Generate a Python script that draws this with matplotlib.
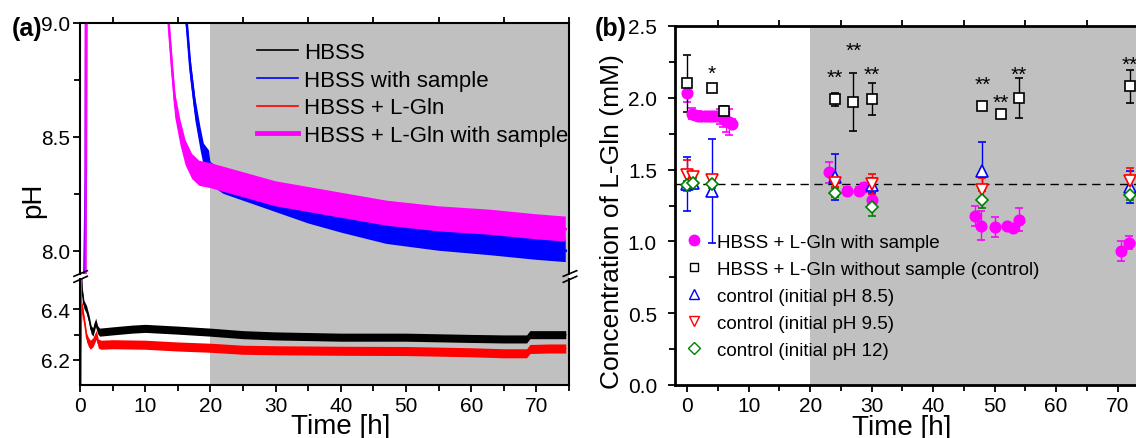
import matplotlib.pyplot as plt
import numpy as np
from matplotlib.lines import Line2D
from matplotlib.patches import Rectangle
from matplotlib.transforms import blended_transform_factory

plt.rcParams['font.family'] = ['Liberation Sans', 'DejaVu Sans']

# ---------------- (a) pH vs time (center of the noisy trace + half width of the noise)
hbss_t = [0.0, 0.1, 0.35, 0.6, 1.0, 1.4, 1.7, 2.0, 2.4, 2.7, 3.0, 5, 8, 10, 15, 20, 25, 30,
          40, 50, 60, 65, 68.5, 69, 72, 74.5]
hbss_ph = [6.45, 6.58, 6.47, 6.42, 6.40, 6.36, 6.32, 6.31, 6.35, 6.32, 6.31, 6.315, 6.322, 6.325,
           6.318, 6.31, 6.30, 6.295, 6.29, 6.29, 6.285, 6.283, 6.283, 6.30, 6.30, 6.30]
hbss_hw = 0.016

gln_t = [0.0, 0.15, 0.3, 0.5, 0.8, 1.0, 1.3, 1.6, 2.0, 2.5, 2.8, 3.2, 5, 10, 15, 20, 25, 30,
         40, 50, 60, 65, 68.5, 69, 72, 74.5]
gln_ph = [6.20, 6.30, 6.42, 6.38, 6.33, 6.29, 6.27, 6.26, 6.27, 6.30, 6.265, 6.26, 6.262, 6.26,
          6.253, 6.248, 6.24, 6.238, 6.236, 6.235, 6.23, 6.226, 6.226, 6.243, 6.245, 6.245]
gln_hw = 0.018

samp_t = [0.0, 0.05, 0.9, 0.95, 1.0, 8.0, 16.0, 16.4, 16.9, 17.7, 18.5, 19.0, 19.8, 20, 22, 25,
          30, 35, 40, 47, 55, 63, 70, 74.5]
samp_ph = [6.0, 6.6, 8.35, 8.97, 9.6, 9.8, 9.1, 8.99, 8.81, 8.62, 8.49, 8.42, 8.39, 8.34, 8.30,
           8.27, 8.22, 8.17, 8.13, 8.08, 8.05, 8.03, 8.01, 8.0]
samp_hw = 0.05

glnsamp_t = [0.0, 0.15, 0.85, 0.9, 1.0, 7.0, 13.4, 13.6, 14.1, 14.6, 15.4, 16.2, 17.2, 18.3, 20,
             25, 30, 40, 47, 55, 63, 70, 74.5]
glnsamp_ph = [6.0, 6.6, 7.85, 8.97, 9.6, 9.8, 9.1, 9.0, 8.81, 8.64, 8.52, 8.43, 8.37, 8.34, 8.33,
              8.29, 8.25, 8.20, 8.165, 8.14, 8.125, 8.105, 8.095]
glnsamp_hw = 0.055

# ---------------- (b) L-Gln concentration
ws_t = [0, 0.8, 1.3, 1.8, 2.3, 2.8, 3.3, 3.8, 4.3, 4.8, 5.3, 5.8, 6.3, 6.8, 7.2,
        23, 26, 28, 28.8, 30, 46.8, 47.8, 50, 52, 53, 54, 70.6, 71.8]
ws_c = [2.03, 1.89, 1.88, 1.875, 1.87, 1.87, 1.87, 1.87, 1.87, 1.87, 1.87, 1.86, 1.84, 1.83, 1.82,
        1.48, 1.35, 1.35, 1.38, 1.29, 1.18, 1.11, 1.10, 1.11, 1.09, 1.15, 0.935, 0.99]
ws_e = [0.06, 0.04, 0.03, 0.03, 0.03, 0.03, 0.03, 0.03, 0.03, 0.03, 0.05, 0.06, 0.08, 0.09, 0.03,
        0.07, 0.03, 0.03, 0.03, 0.04, 0.07, 0.1, 0.07, 0.02, 0.02, 0.08, 0.07, 0.045]

ctl_t = [0, 4, 6, 24, 27, 30, 48, 51, 54, 72]
ctl_c = [2.10, 2.07, 1.91, 1.99, 1.97, 1.99, 1.94, 1.89, 2.00, 2.08]
ctl_e = [0.2, 0.02, 0.03, 0.045, 0.2, 0.11, 0.02, 0.02, 0.14, 0.115]

star_t = [4, 24, 27, 30, 48, 51, 54, 72]
star_c = [2.22, 2.19, 2.38, 2.21, 2.14, 2.02, 2.21, 2.28]
star_txt = ['*', '**', '**', '**', '**', '**', '**', '**']

ph_t = [0, 1, 4, 24, 30, 48, 72]
ph85_c = [1.40, 1.41, 1.35, 1.45, 1.39, 1.49, 1.38]
ph85_e = [0.19, 0.04, 0.36, 0.16, 0.05, 0.2, 0.11]
ph95_c = [1.46, 1.45, 1.43, 1.41, 1.40, 1.36, 1.42]
ph95_e = [0.11, 0.03, 0.02, 0.03, 0.07, 0.08, 0.09]
ph12_c = [1.39, 1.41, 1.40, 1.34, 1.24, 1.29, 1.32]
ph12_e = [0.03, 0.03, 0.03, 0.03, 0.06, 0.06, 0.03]

GRAY = '#c0c0c0'
W, H = 1136., 439.


def box(x0, y0, x1, y1):
    # pixel box -> figure fraction
    return [x0 / W, 1 - y1 / H, (x1 - x0) / W, (y1 - y0) / H]


def trace(ax, t, y, hw, color, lw):
    t = np.array(t)
    y = np.array(y)
    ax.fill_between(t, y - hw, y + hw, color=color, lw=0, zorder=2)
    ax.plot(t, y, color=color, lw=lw, zorder=2)


fig = plt.figure(figsize=(11.36, 4.39), dpi=100)

ax_top = fig.add_axes(box(80, 24, 569, 274.5))
ax_bot = fig.add_axes(box(80, 280.3, 569, 386))

for ax in (ax_top, ax_bot):
    ax.axvspan(20, 75, color=GRAY, lw=0, zorder=0)
    trace(ax, hbss_t, hbss_ph, hbss_hw, 'black', 1.0)
    trace(ax, gln_t, gln_ph, gln_hw, 'red', 1.0)
    trace(ax, samp_t, samp_ph, samp_hw, 'blue', 1.8)
    trace(ax, glnsamp_t, glnsamp_ph, glnsamp_hw, 'magenta', 1.8)
    ax.set_xlim(0, 75)
    ax.set_xticks(np.arange(0, 71, 10))
    ax.set_xticks(np.arange(5, 76, 10), minor=True)
    for s in ax.spines.values():
        s.set_linewidth(1.5)
    ax.tick_params(which='both', direction='out', width=1.3, labelsize=15, right=False)
    ax.tick_params(which='major', length=5)
    ax.tick_params(which='minor', length=4)
    ax.tick_params(axis='y', pad=2)

ax_top.set_ylim(7.9, 9.0)
ax_top.set_yticks([8.0, 8.5, 9.0])
ax_top.set_yticks([8.25, 8.75], minor=True)
ax_top.spines['bottom'].set_visible(False)
ax_top.tick_params(axis='x', which='major', bottom=False, top=False, labelbottom=False)
ax_top.tick_params(axis='x', which='minor', bottom=False, top=True)

ax_bot.set_ylim(6.1, 6.52)
ax_bot.set_yticks([6.2, 6.4])
ax_bot.set_yticks([6.3], minor=True)
ax_bot.spines['top'].set_visible(False)
ax_bot.tick_params(axis='x', which='both', top=False, pad=3)

# grey shading in the gap between the two halves
tr = blended_transform_factory(ax_bot.transData, fig.transFigure)
fig.add_artist(Rectangle((20, 1 - 280.3 / H), 55, 5.8 / H, transform=tr,
                         color=GRAY, lw=0, zorder=0))

# break marks
for xs in ([74, 87.3], [563.3, 576.7]):
    for ys in ([277.3, 271.7], [283.3, 277.3]):
        fig.add_artist(Line2D([x / W for x in xs], [1 - y / H for y in ys],
                              transform=fig.transFigure, color='black', lw=1.2))

leg_a = [Line2D([], [], color='black', lw=1.2),
         Line2D([], [], color='blue', lw=1.2),
         Line2D([], [], color='red', lw=1.2),
         Line2D([], [], color='magenta', lw=3.5)]
ax_top.legend(leg_a, ['HBSS', 'HBSS with sample', 'HBSS + L-Gln', 'HBSS + L-Gln with sample'],
              loc='upper left', bbox_to_anchor=(0.362, 0.924), frameon=False, fontsize=16,
              handlelength=1.86, handletextpad=0.27, labelspacing=0.3, borderpad=0,
              borderaxespad=0)

fig.text(12 / W, 1 - 36 / H, '(a)', fontsize=18, fontweight='bold', va='baseline')
fig.text(33 / W, 1 - 200 / H, 'pH', rotation=90, ha='center', va='center', fontsize=20)
fig.text(341 / W, 1 - 434 / H, 'Time [h]', ha='center', va='baseline', fontsize=20)

# ---------------- panel (b)
ax_b = fig.add_axes(box(675, 27, 1136, 386))
ax_b.axvspan(20, 73, color=GRAY, lw=0, zorder=0)
ax_b.axhline(1.4, color='black', lw=1, ls=(0, (6, 4)), zorder=1)

eb = dict(ls='none', elinewidth=1, capsize=3, capthick=1, mew=1.2, zorder=3)
ax_b.errorbar(ws_t, ws_c, yerr=ws_e, marker='o', ms=7.5, mfc='magenta', mec='magenta',
              ecolor='magenta', **eb)
ax_b.errorbar(ctl_t, ctl_c, yerr=ctl_e, marker='s', ms=6.5, mfc='white', mec='black',
              ecolor='black', **eb)
ax_b.errorbar(ph_t, ph85_c, yerr=ph85_e, marker='^', ms=8, mfc='white', mec='blue',
              ecolor='blue', **eb)
ax_b.errorbar(ph_t, ph95_c, yerr=ph95_e, marker='v', ms=8, mfc='white', mec='red',
              ecolor='red', **eb)
ax_b.errorbar(ph_t, ph12_c, yerr=ph12_e, marker='D', ms=6.5, mfc='white', mec='green',
              ecolor='green', **eb)

for t, c, s in zip(star_t, star_c, star_txt):
    ax_b.annotate(s, (t, c), xytext=(0, -9), textcoords='offset points', ha='center',
                  va='baseline', fontsize=15)

ax_b.set_xlim(-2, 73)
ax_b.set_ylim(0, 2.5)
ax_b.set_xticks(np.arange(0, 71, 10))
ax_b.set_xticks(np.arange(5, 70, 10), minor=True)
ax_b.set_yticks(np.arange(0, 2.51, 0.5))
ax_b.set_yticks(np.arange(0.25, 2.5, 0.5), minor=True)
ax_b.set_yticklabels(['%.1f' % v for v in np.arange(0, 2.51, 0.5)])
ax_b.spines['right'].set_visible(False)
for s in ('left', 'top', 'bottom'):
    ax_b.spines[s].set_linewidth(2)
ax_b.tick_params(which='both', direction='out', width=1.3, labelsize=15, right=False)
ax_b.tick_params(which='major', length=5)
ax_b.tick_params(which='minor', length=4)
ax_b.tick_params(axis='x', which='major', top=False, pad=3)
ax_b.tick_params(axis='x', which='minor', top=True)
ax_b.tick_params(axis='y', pad=8)

leg_b = [Line2D([], [], ls='none', marker='o', ms=7.5, mfc='magenta', mec='magenta'),
         Line2D([], [], ls='none', marker='s', ms=5.5, mfc='white', mec='black'),
         Line2D([], [], ls='none', marker='^', ms=7.5, mfc='white', mec='blue'),
         Line2D([], [], ls='none', marker='v', ms=7.5, mfc='white', mec='red'),
         Line2D([], [], ls='none', marker='D', ms=6, mfc='white', mec='green')]
ax_b.legend(leg_b, ['HBSS + L-Gln with sample', 'HBSS + L-Gln without sample (control)',
                    'control (initial pH 8.5)', 'control (initial pH 9.5)',
                    'control (initial pH 12)'],
            loc='upper left', bbox_to_anchor=(0.020, 0.422), frameon=False, fontsize=13.5,
            handlelength=1.0, handletextpad=0.75, labelspacing=0.53, borderpad=0,
            borderaxespad=0)

fig.text(595 / W, 1 - 36 / H, '(b)', fontsize=18, fontweight='bold', va='baseline')
fig.text(612 / W, 1 - 222 / H, 'Concentration of L-Gln (mM)', rotation=90, ha='center',
         va='center', fontsize=19)
fig.text(902 / W, 1 - 435 / H, 'Time [h]', ha='center', va='baseline', fontsize=20)

fig.savefig('out.png', dpi=100)
